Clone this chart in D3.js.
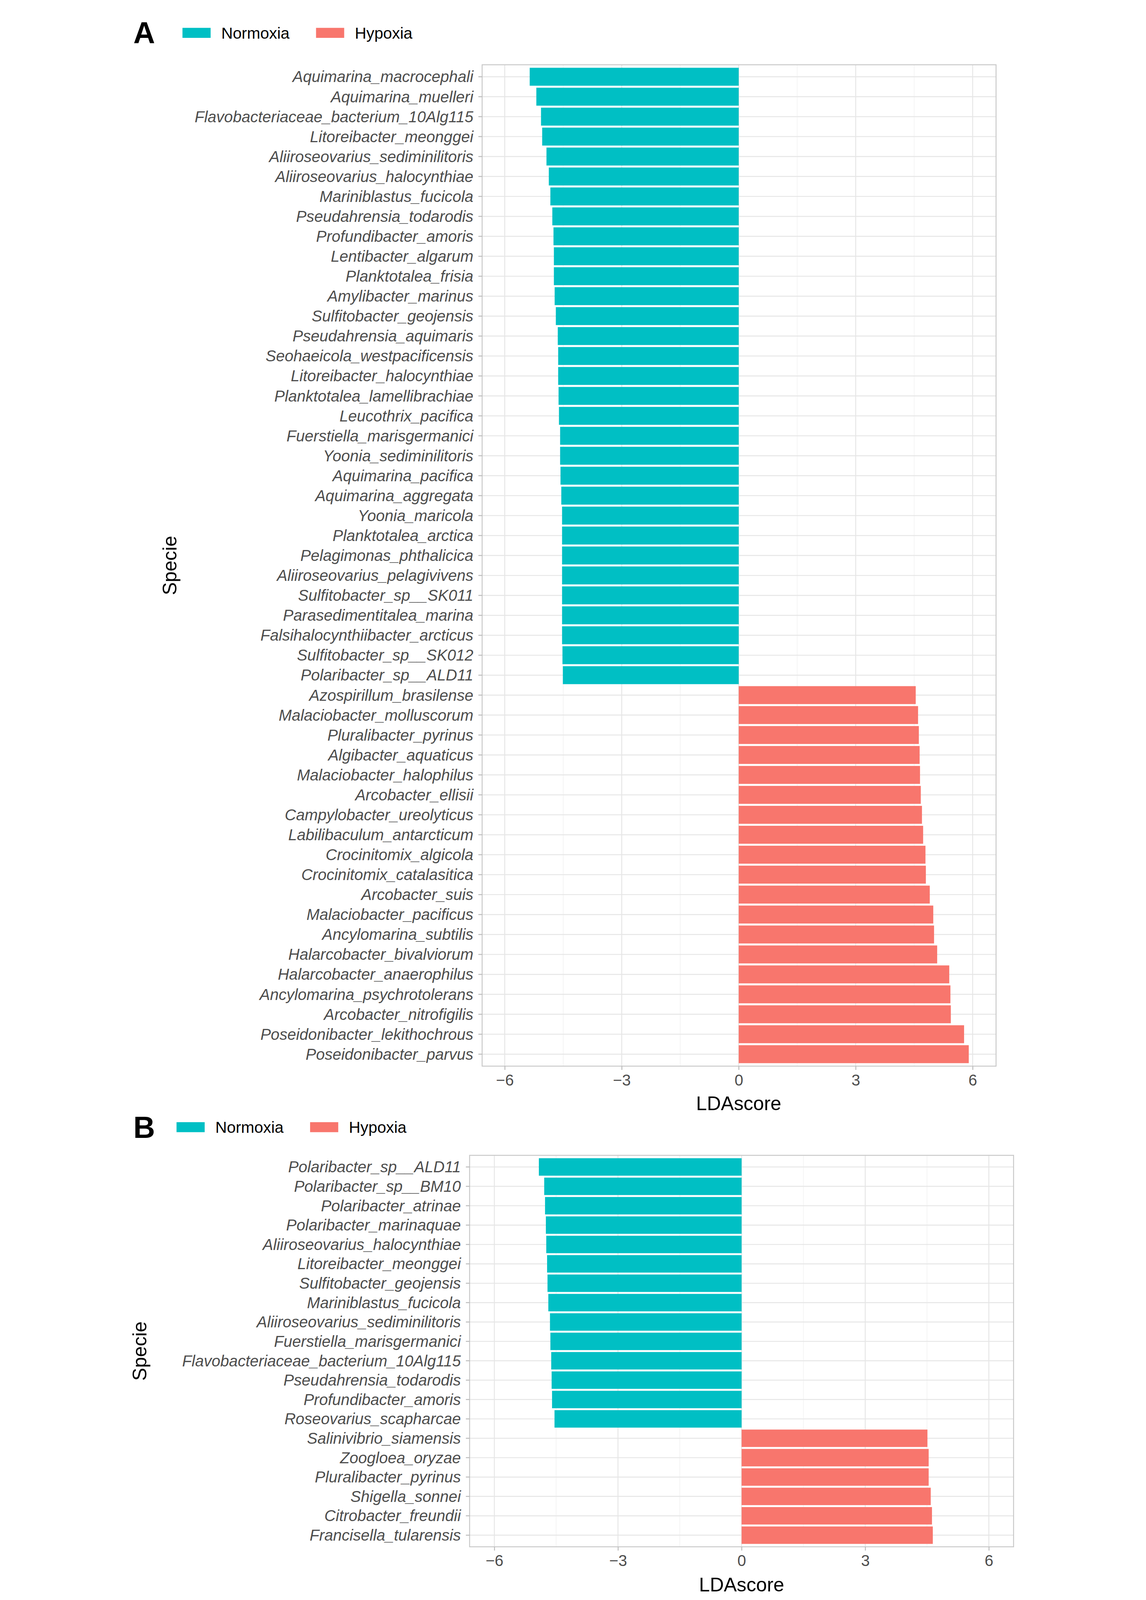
<!DOCTYPE html>
<html><head><meta charset="utf-8">
<script src="https://cdn.jsdelivr.net/npm/d3@7"></script>
<style>html,body{margin:0;background:#fff;overflow:hidden}svg{display:block;font-family:"Liberation Sans",Arial,sans-serif}</style>
</head><body>
<script>
const speciesA = ["Aquimarina_macrocephali","Aquimarina_muelleri","Flavobacteriaceae_bacterium_10Alg115","Litoreibacter_meonggei","Aliiroseovarius_sediminilitoris","Aliiroseovarius_halocynthiae","Mariniblastus_fucicola","Pseudahrensia_todarodis","Profundibacter_amoris","Lentibacter_algarum","Planktotalea_frisia","Amylibacter_marinus","Sulfitobacter_geojensis","Pseudahrensia_aquimaris","Seohaeicola_westpacificensis","Litoreibacter_halocynthiae","Planktotalea_lamellibrachiae","Leucothrix_pacifica","Fuerstiella_marisgermanici","Yoonia_sediminilitoris","Aquimarina_pacifica","Aquimarina_aggregata","Yoonia_maricola","Planktotalea_arctica","Pelagimonas_phthalicica","Aliiroseovarius_pelagivivens","Sulfitobacter_sp__SK011","Parasedimentitalea_marina","Falsihalocynthiibacter_arcticus","Sulfitobacter_sp__SK012","Polaribacter_sp__ALD11","Azospirillum_brasilense","Malaciobacter_molluscorum","Pluralibacter_pyrinus","Algibacter_aquaticus","Malaciobacter_halophilus","Arcobacter_ellisii","Campylobacter_ureolyticus","Labilibaculum_antarcticum","Crocinitomix_algicola","Crocinitomix_catalasitica","Arcobacter_suis","Malaciobacter_pacificus","Ancylomarina_subtilis","Halarcobacter_bivalviorum","Halarcobacter_anaerophilus","Ancylomarina_psychrotolerans","Arcobacter_nitrofigilis","Poseidonibacter_lekithochrous","Poseidonibacter_parvus"];
const ldaA = [-5.36,-5.19,-5.07,-5.04,-4.93,-4.87,-4.83,-4.78,-4.75,-4.74,-4.74,-4.72,-4.69,-4.64,-4.63,-4.63,-4.62,-4.61,-4.58,-4.58,-4.57,-4.55,-4.53,-4.53,-4.53,-4.53,-4.53,-4.53,-4.53,-4.52,-4.51,4.54,4.6,4.62,4.64,4.65,4.67,4.7,4.73,4.79,4.8,4.9,4.99,5.01,5.09,5.40,5.43,5.44,5.78,5.90];
const speciesB = ["Polaribacter_sp__ALD11","Polaribacter_sp__BM10","Polaribacter_atrinae","Polaribacter_marinaquae","Aliiroseovarius_halocynthiae","Litoreibacter_meonggei","Sulfitobacter_geojensis","Mariniblastus_fucicola","Aliiroseovarius_sediminilitoris","Fuerstiella_marisgermanici","Flavobacteriaceae_bacterium_10Alg115","Pseudahrensia_todarodis","Profundibacter_amoris","Roseovarius_scapharcae","Salinivibrio_siamensis","Zoogloea_oryzae","Pluralibacter_pyrinus","Shigella_sonnei","Citrobacter_freundii","Francisella_tularensis"];
const ldaB = [-4.92,-4.79,-4.77,-4.75,-4.74,-4.72,-4.71,-4.69,-4.65,-4.64,-4.62,-4.61,-4.60,-4.54,4.51,4.54,4.54,4.59,4.62,4.64];
const groups = ["Normoxia","Hypoxia"];
const groupColors = ["#00BFC4","#F8766D"];
const xTicks = [-6,-3,0,3,6];
const xMinor = [-4.5,-1.5,1.5,4.5];

const svg = d3.select("body").append("svg")
  .attr("width","100vw").attr("height","100vh")
  .attr("viewBox","0 0 2935 5113").attr("preserveAspectRatio","xMidYMin meet");
const color = d3.scaleOrdinal(groups, groupColors);

function panel(cfg){
  const g = svg.append("g");
  g.append("text").attr("x",cfg.letterX).attr("y",cfg.legY+34).attr("font-size",96).attr("font-weight","bold").text(cfg.letter);
  groups.forEach((grp,i)=>{
    const lx = cfg.legX[i];
    g.append("rect").attr("x",lx).attr("y",cfg.legY-16).attr("width",90).attr("height",32).attr("fill",color(grp));
    g.append("text").attr("x",lx+124).attr("y",cfg.legY+18).attr("font-size",51).attr("fill","#000").text(grp);
  });
  const x = d3.scaleLinear().domain(cfg.xdom).range([cfg.left,cfg.right]);
  const y = d3.scalePoint().domain(cfg.species).range([cfg.top,cfg.bottom]).padding(0.6);
  const step = y.step();
  g.selectAll(".mn").data(xMinor).join("line").attr("x1",d=>x(d)).attr("x2",d=>x(d)).attr("y1",cfg.top).attr("y2",cfg.bottom).attr("stroke","#F2F2F2").attr("stroke-width",2);
  g.selectAll(".mj").data(xTicks).join("line").attr("x1",d=>x(d)).attr("x2",d=>x(d)).attr("y1",cfg.top).attr("y2",cfg.bottom).attr("stroke","#E6E6E6").attr("stroke-width",3);
  g.selectAll(".hy").data(cfg.species).join("line").attr("x1",cfg.left).attr("x2",cfg.right).attr("y1",d=>y(d)).attr("y2",d=>y(d)).attr("stroke","#E6E6E6").attr("stroke-width",3);
  g.selectAll(".bar").data(cfg.species.map((s,i)=>({s,v:cfg.values[i]}))).join("rect")
    .attr("x",d=>x(Math.min(0,d.v))).attr("width",d=>Math.abs(x(d.v)-x(0)))
    .attr("y",d=>y(d.s)-step*0.45).attr("height",step*0.9)
    .attr("fill",d=>color(d.v<0?"Normoxia":"Hypoxia"));
  g.append("rect").attr("x",cfg.left).attr("y",cfg.top).attr("width",cfg.right-cfg.left).attr("height",cfg.bottom-cfg.top).attr("fill","none").attr("stroke","#C8C8C8").attr("stroke-width",3);
  g.selectAll(".yt").data(cfg.species).join("line").attr("x1",cfg.left-12).attr("x2",cfg.left).attr("y1",d=>y(d)).attr("y2",d=>y(d)).attr("stroke","#BBBBBB").attr("stroke-width",3);
  g.selectAll(".yl").data(cfg.species).join("text").attr("x",cfg.left-28).attr("y",d=>y(d)).attr("dy","0.35em")
    .attr("text-anchor","end").attr("font-size",cfg.fs).attr("font-style","italic").attr("fill","#4D4D4D").text(d=>d);
  const ax = g.append("g").attr("transform",`translate(0,${cfg.bottom})`).call(d3.axisBottom(x).tickValues(xTicks).tickFormat(d3.format("d")).tickSize(12).tickPadding(14));
  ax.select(".domain").remove();
  ax.selectAll("line").attr("stroke","#BBBBBB").attr("stroke-width",3);
  ax.selectAll("text").attr("font-size",50).attr("fill","#4D4D4D").attr("font-family","'Liberation Sans',Arial").text(d=>d<0?"\u2212"+(-d):d);
  g.append("text").attr("x",x(0)).attr("y",cfg.xlabY).attr("text-anchor","middle").attr("font-size",62).attr("fill","#000").text("LDAscore");
  g.append("text").attr("transform",`translate(${cfg.specX},${(cfg.top+cfg.bottom)/2}) rotate(-90)`).attr("text-anchor","middle").attr("font-size",62).attr("fill","#000").text("Specie");
}

panel({letter:"A",letterX:62,legY:105,legX:[219,646],species:speciesA,values:ldaA,
  left:1177,right:2820,top:207,bottom:3407,xdom:[-6.58,6.6],fs:50,xlabY:3548,specX:200});
panel({letter:"B",letterX:62,legY:3602,legX:[200,627],species:speciesB,values:ldaB,
  left:1137,right:2876,top:3692,bottom:4943,xdom:[-6.6,6.6],fs:50,xlabY:5086,specX:104});
</script>
</body></html>
